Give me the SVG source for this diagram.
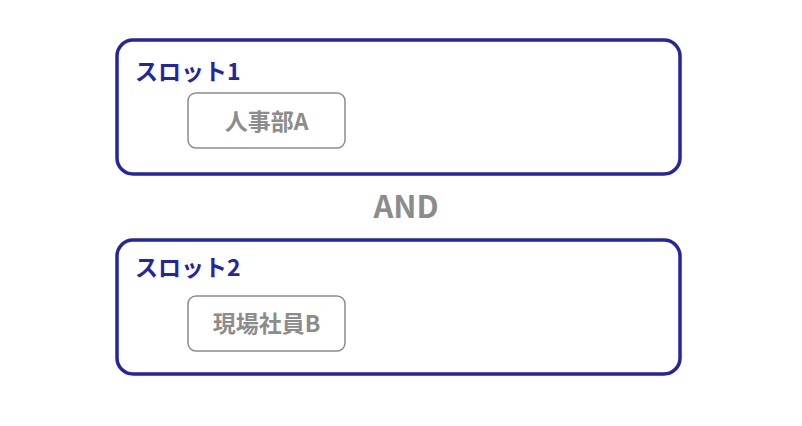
<svg xmlns="http://www.w3.org/2000/svg" width="802" height="426" viewBox="0 0 802 426">
<style>
.slot{fill:#fff;stroke:#2525a0;stroke-width:3.5}
.item{fill:#fff;stroke:#8c8c8c;stroke-width:1.5}
.title{font-family:"Noto Sans CJK JP","Noto Sans",sans-serif;font-weight:bold;font-size:23px;fill:#2525a0}
.label{font-family:"Noto Sans CJK JP","Noto Sans",sans-serif;font-weight:bold;font-size:23px;fill:#8c8c8c;text-anchor:middle}
.and{font-family:"Noto Sans CJK JP","Noto Sans",sans-serif;font-weight:bold;font-size:31px;fill:#8c8c8c;text-anchor:middle}
</style>
<rect width="802" height="426" fill="#fff"/>
<g id="slot1">
<rect class="slot" x="117" y="40" width="563" height="134" rx="16"/>
<text class="title" x="135" y="80">スロット1</text>
</g>
<g id="personA">
<rect class="item" x="188" y="93" width="157" height="55" rx="8"/>
<text class="label" x="266.5" y="130">人事部A</text>
</g>
<g id="and">
<text class="and" x="406" y="218">AND</text>
</g>
<g id="slot2">
<rect class="slot" x="117" y="240" width="563" height="134" rx="16"/>
<text class="title" x="135" y="276">スロット2</text>
</g>
<g id="personB">
<rect class="item" x="188" y="296" width="157" height="55" rx="8"/>
<text class="label" x="266.5" y="332">現場社員B</text>
</g>
<g id="connectors"></g>
</svg>
